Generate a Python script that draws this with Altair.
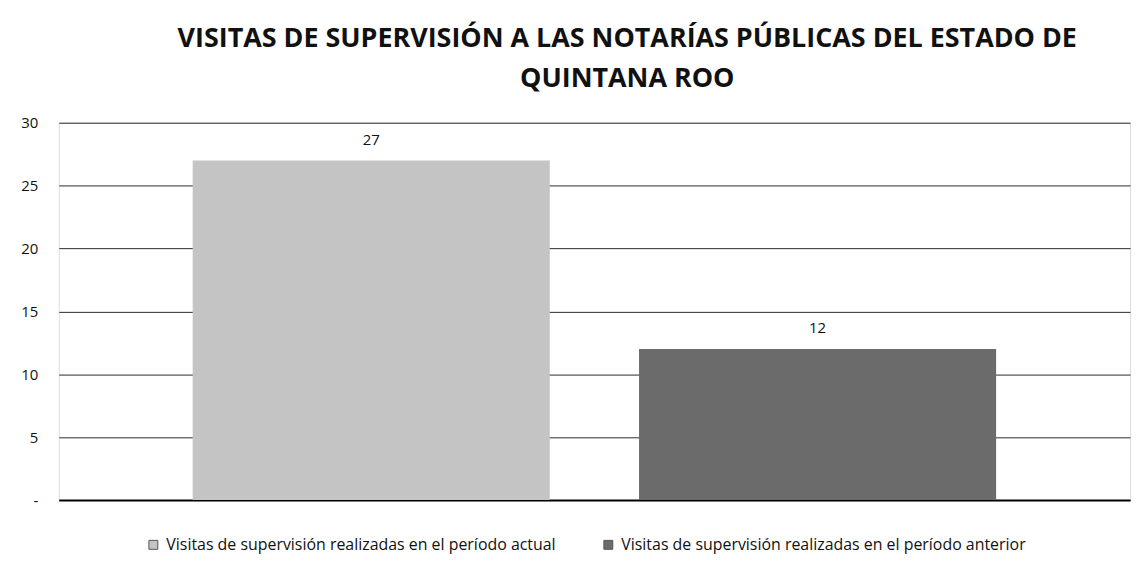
import altair as alt
import pandas as pd

categorias = [
    "Visitas de supervisión realizadas en el período actual",
    "Visitas de supervisión realizadas en el período anterior",
]
valores = [27, 12]
colores = ["#c4c4c4", "#6b6b6b"]
ticks_y = [0, 5, 10, 15, 20, 25, 30]

df = pd.DataFrame({"cat": categorias, "valor": valores})

FONT = "Open Sans"

base = alt.Chart(df).encode(
    x=alt.X(
        "cat:N",
        sort=categorias,
        title=None,
        scale=alt.Scale(paddingInner=0.2, paddingOuter=0.3),
        axis=alt.Axis(labels=False, ticks=False, domain=True, domainColor="#000000",
                      domainWidth=2, grid=False),
    ),
    y=alt.Y(
        "valor:Q",
        title=None,
        scale=alt.Scale(domain=[0, 30], nice=False),
        axis=alt.Axis(
            values=ticks_y,
            labelExpr="datum.value == 0 ? '-' : datum.label",
            ticks=False,
            domain=False,
            grid=True,
            gridColor="#2a2a2a",
            gridWidth=1,
            labelPadding=21,
            labelFontSize=15,
            labelColor="#111111",
            labelFont=FONT,
        ),
    ),
)

bars = base.mark_bar().encode(
    color=alt.Color(
        "cat:N",
        sort=categorias,
        scale=alt.Scale(domain=categorias, range=colores),
        legend=alt.Legend(
            title=None,
            orient="none",
            direction="horizontal",
            legendX=87,
            legendY=416,
            symbolType="square",
            symbolSize=80,
            symbolStrokeColor="#555555",
            symbolStrokeWidth=1,
            labelFontSize=16,
            labelFont=FONT,
            labelColor="#111111",
            labelLimit=700,
            columnPadding=44,
            symbolOffset=0,
            labelOffset=5,
        ),
    )
)

text = base.mark_text(dy=-21, fontSize=15, font=FONT, color="#111111").encode(
    text=alt.Text("valor:Q")
)

chart = (
    (bars + text)
    .properties(
        width=1076,
        height=379,
        padding={"left": 12, "top": 16, "right": 5, "bottom": 5},
        title=alt.TitleParams(
            text=[
                "VISITAS DE SUPERVISIÓN A LAS NOTARÍAS PÚBLICAS DEL ESTADO DE",
                "QUINTANA ROO",
            ],
            font=FONT,
            fontSize=27,
            fontWeight="bold",
            color="#111111",
            anchor="middle",
            dx=33,
            lineHeight=40,
            offset=23,
        ),
    )
    .configure_view(stroke=None)
    .configure(background="white")
)

chart.save("out.html", embed_options={"renderer": "svg", "actions": False})
